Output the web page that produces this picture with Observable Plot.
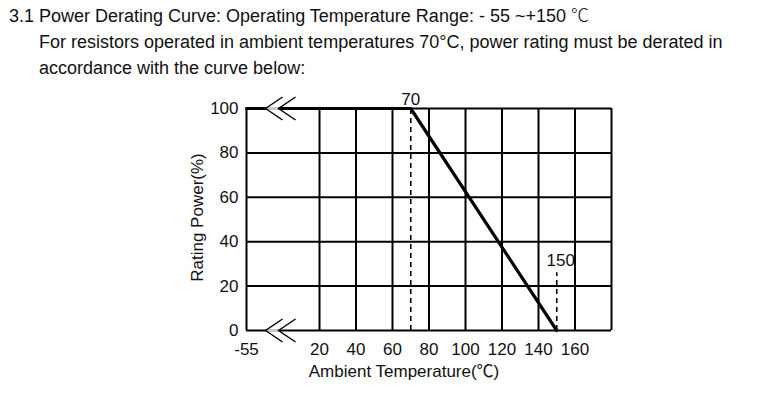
<!DOCTYPE html>
<html><head><meta charset="utf-8">
<script src="https://cdn.jsdelivr.net/npm/d3@7"></script>
<script src="https://cdn.jsdelivr.net/npm/@observablehq/plot@0.6"></script>
<style>
body{margin:0;background:#fff;}
#title{height:82px;font-family:"Liberation Sans",Arial,"Noto Sans CJK SC",sans-serif;font-size:18px;line-height:26px;color:#111;padding-top:1px;box-sizing:border-box;overflow:hidden}
#title div{white-space:nowrap}
.cjk{font-family:"Noto Sans CJK SC",sans-serif;font-weight:300}
</style></head><body>
<div id="title">
<div style="padding-left:9px">3.1 Power Derating Curve: Operating Temperature Range: - 55 ~+150 <span class="cjk">℃</span></div>
<div style="padding-left:39px">For resistors operated in ambient temperatures 70°C, power rating must be derated in</div>
<div style="padding-left:39px">accordance with the curve below:</div>
</div>
<div id="chart"></div>
<script>
// ---- data ----
const tempTicks = [-55, 20, 40, 60, 80, 100, 120, 140, 160];
const gridTemps = [-55, 20, 40, 60, 80, 100, 120, 140, 160, 180];
const powerTicks = [0, 20, 40, 60, 80, 100];
const curveTemp = [-55, 70, 150];
const curvePower = [100, 100, 0];
const ratedTemp = 70;
const maxTemp = 150;
const maxTempDashTop = 26;
const breakTemp = -20;

// broken axis: -55..20 compressed into two grid steps
const pos = t => (t < 20 ? -20 + (t + 55) * 40 / 75 : t);
const labelAt = new Map(tempTicks.map(t => [pos(t), String(t)]));
const curve = curveTemp.map((t, i) => ({t, p: curvePower[i]}));

const chevron = {
  draw(ctx) {
    ctx.moveTo(2, -11.5); ctx.lineTo(-15, 0); ctx.lineTo(2, 11.5);
    ctx.moveTo(15, -11.5); ctx.lineTo(-2, 0); ctx.lineTo(15, 11.5);
  }
};
const gap = {
  draw(ctx) { ctx.moveTo(-14, 0); ctx.lineTo(-2, 0); }
};

const font = '"Liberation Sans", Arial, "Noto Sans CJK SC", sans-serif';

const chart = Plot.plot({
  width: 775,
  height: 314,
  marginLeft: 246,
  marginRight: 164,
  marginTop: 26,
  marginBottom: 66,
  x: {domain: [pos(-55), 180]},
  y: {domain: [0, 100]},
  style: {fontFamily: font, fontSize: "17px", color: "#111", background: "#fff"},
  marks: [
    Plot.ruleY(powerTicks, {y: d => d, x1: pos(-55), x2: 180, stroke: "#000", strokeWidth: 2}),
    Plot.ruleX(gridTemps, {x: pos, y1: 0, y2: 100, stroke: "#000", strokeWidth: 2}),
    Plot.ruleX([ratedTemp], {x: pos, y1: 0, y2: 100, stroke: "#000", strokeWidth: 1.6, strokeDasharray: "5,4"}),
    Plot.ruleX([maxTemp], {x: pos, y1: 0, y2: maxTempDashTop, stroke: "#000", strokeWidth: 1.6, strokeDasharray: "5,4"}),
    Plot.line(curve, {x: d => pos(d.t), y: "p", stroke: "#000", strokeWidth: 3.2, strokeLinejoin: "miter"}),
    Plot.dot([0, 100], {x: pos(breakTemp), y: d => d, symbol: gap, r: 5, fill: "none", stroke: "#c8c8c8", strokeWidth: 3}),
    Plot.dot([0, 100], {x: pos(breakTemp), y: d => d, symbol: chevron, r: 5, fill: "none", stroke: "#000", strokeWidth: 1.4}),
    Plot.text([ratedTemp], {x: pos, y: 100, text: d => String(d), dy: -9, fontSize: 17, fill: "#111"}),
    Plot.text([maxTemp], {x: pos, y: maxTempDashTop, text: d => String(d), dx: 4, dy: -12, fontSize: 17, fill: "#111"}),
    Plot.axisX(tempTicks.map(pos), {tickSize: 0, tickPadding: 12, tickFormat: d => labelAt.get(d), label: null, fontSize: 17}),
    Plot.axisY(powerTicks, {tickSize: 0, tickPadding: 8, label: null, fontSize: 17}),
    Plot.text(["Ambient Temperature(℃)"], {frameAnchor: "bottom", text: d => d, dx: -25, dy: 46, fontSize: 17, fill: "#111"}),
    Plot.text(["Rating Power(%)"], {frameAnchor: "left", textAnchor: "middle", text: d => d, rotate: -90, dx: -49, dy: -2, fontSize: 17, fill: "#111"})
  ]
});
document.getElementById("chart").appendChild(chart);
</script>
</body></html>
